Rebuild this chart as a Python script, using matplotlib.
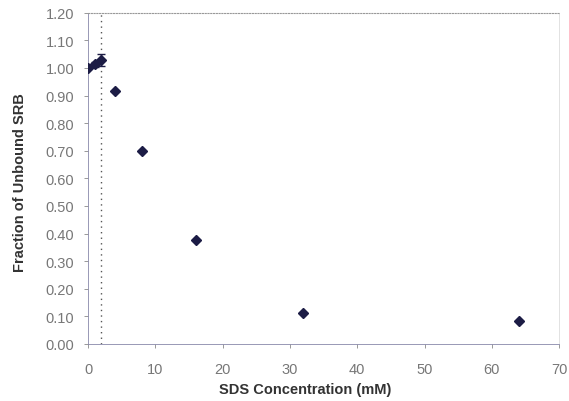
import matplotlib.pyplot as plt
import numpy as np

# SDS titration of SRB
sds_mM = [0, 1, 2, 4, 8, 16, 32, 64]
frac_unbound = [1.00, 1.013, 1.03, 0.915, 0.70, 0.375, 0.113, 0.082]
frac_err = [0.0, 0.008, 0.022, 0.0, 0.0, 0.0, 0.0, 0.0]
cmc_line = 1.9

x_ticks = [0, 10, 20, 30, 40, 50, 60, 70]
y_ticks = [0.0, 0.1, 0.2, 0.3, 0.4, 0.5, 0.6, 0.7, 0.8, 0.9, 1.0, 1.1, 1.2]

plt.rcParams['font.family'] = ['Liberation Sans', 'DejaVu Sans']

fig = plt.figure(figsize=(5.69, 4.02), dpi=100)
ax = fig.add_axes([0.1547, 0.1418, 0.8280, 0.8242])

ax.errorbar(sds_mM, frac_unbound, yerr=frac_err, fmt='D', color='#1c1c45',
            markersize=5.5, ecolor='#1c1c45', elinewidth=1, capsize=3, capthick=1,
            zorder=3)

ax.axvline(cmc_line, color='#555555', linestyle=(0, (1, 3)), linewidth=1)

ax.set_xlim(0, 70)
ax.set_ylim(0, 1.2)
ax.set_xticks(x_ticks)
ax.set_yticks(y_ticks)
ax.set_yticklabels([f"{v:.2f}" for v in y_ticks])
ax.tick_params(axis='both', labelsize=10.5, colors='#888888', length=3, width=0.6,
               direction='out', labelcolor='#777777')
ax.tick_params(axis='x', pad=10)
ax.tick_params(axis='y', pad=7)

# Excel-like plot frame
ax.spines['top'].set_color('#999999')
ax.spines['top'].set_linestyle((0, (1, 1.5)))
ax.spines['top'].set_linewidth(0.8)
ax.spines['right'].set_color('#dddddd')
ax.spines['right'].set_linewidth(0.6)
ax.spines['left'].set_color('#8888aa')
ax.spines['left'].set_linewidth(0.6)
ax.spines['bottom'].set_color('#8888aa')
ax.spines['bottom'].set_linewidth(0.6)

ax.set_xlabel("SDS Concentration (mM)", fontsize=10.5, fontweight='bold',
              color='#333333')
ax.set_ylabel("Fraction of Unbound SRB", fontsize=10.5, fontweight='bold',
              color='#333333')
ax.xaxis.set_label_coords(0.46, -0.115)
ax.yaxis.set_label_coords(-0.13, 0.49)

plt.savefig('out.png', dpi=100)
plt.close()
